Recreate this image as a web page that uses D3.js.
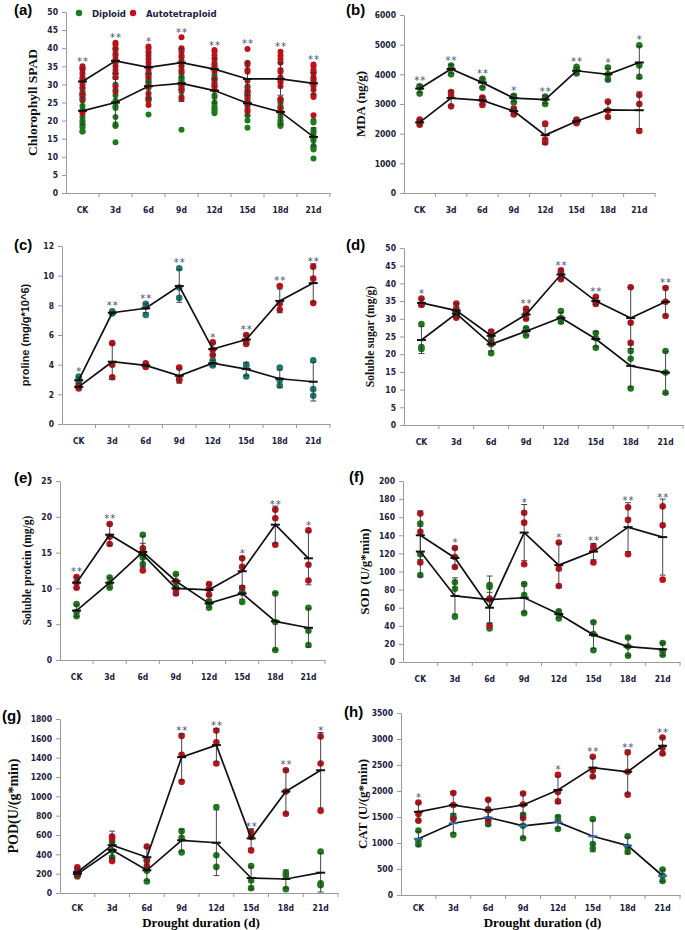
<!DOCTYPE html>
<html>
<head>
<meta charset="utf-8">
<script src="https://cdn.jsdelivr.net/npm/d3@7"></script>
<style>
body { margin: 0; background: #fff; }
.tk { font-family: "DejaVu Sans Condensed", "DejaVu Sans", sans-serif; font-weight: bold; font-size: 8.5px; fill: #1b2140; }
</style>
</head>
<body>
<script>
var days = ["CK", "3d", "6d", "9d", "12d", "15d", "18d", "21d"];

// (a) chlorophyll SPAD, every leaf reading
var chlDip = [[29, 28, 27, 26, 25.5, 24, 23, 22.5, 21, 20, 19.5, 18.5, 18, 17, 17],
  [33, 32, 30, 28.5, 27, 25.5, 25, 24, 23.5, 21, 19, 18.5, 14],
  [33, 32.5, 31.5, 31, 30.5, 30, 29, 26.5, 26, 25.5, 21.7],
  [33, 32, 31.5, 31, 30.5, 30, 29.5, 28.5, 28, 17.5],
  [32.5, 31.5, 30, 29.5, 27, 26.5, 25, 24, 23.5, 23, 22.5, 22],
  [29.5, 28, 27, 26, 25, 24.5, 21.5, 20, 18],
  [31.5, 26, 25, 24, 23.5, 22, 21, 20, 19.5, 19, 18.5],
  [20, 19.5, 17.5, 17, 16.5, 15.5, 15, 14.5, 13, 12.5, 12, 9.5]];
var chlTet = [[35, 34.5, 34, 33, 32, 31.5, 31, 30, 29, 27.5, 27, 26, 22],
  [41.5, 41, 40, 39.5, 38.5, 38, 37, 36.5, 36, 35, 34, 33, 32, 29.5, 28],
  [40.5, 40, 39, 38, 37, 36, 35, 34, 33, 32, 29.5, 27.5, 26, 24.3],
  [43, 40, 39.5, 39, 38, 37.5, 36.5, 35, 34, 33.5, 30, 29, 28.5, 26.5, 26],
  [39.5, 39, 38, 37, 36, 35.5, 35, 34.5, 33.5, 31.5, 30.5, 29.5, 28.5],
  [39.8, 36, 35.5, 34, 33.5, 31, 29, 28, 27.5, 26.5, 25.5, 24, 23, 22.5],
  [39, 38, 37, 36, 34, 33.5, 32, 31, 30.5, 29.5, 26, 25.5, 23.5, 22.5],
  [35.5, 35, 34, 33.5, 33, 32, 31.5, 31, 30.5, 30, 29.5, 28.5, 27, 26.5, 21.5]];
var chlDipMean = [22.7, 25, 29.5, 30.3, 28.3, 24.8, 22.4, 15.5];
var chlTetMean = [30.8, 36.5, 34.7, 36, 34.2, 31.5, 31.5, 30.3];
var chlDipSd = [3.8, 6.5, 3.5, 5, 3.5, 3.5, 3.5, 2.5];
var chlTetSd = [3.5, 3.5, 4, 4, 3, 4.5, 4.5, 3];
var chlSig = ["**", "**", "*", "**", "**", "**", "**", "**"];

// (b) MDA
var mdaDip = [[3600, 3560, 3350], [4300, 4220, 4000], [3850, 3780, 3550], [3280, 3230, 3050],
  [3250, 3200, 3000], [4250, 4180, 4030], [4230, 4000, 3820], [4980, 4300, 3920]];
var mdaTet = [[2480, 2400, 2300], [3400, 3280, 2920], [3220, 3150, 2970], [2850, 2780, 2650],
  [2340, 1800, 1700], [2480, 2430, 2350], [3080, 2780, 2560], [3300, 3000, 2090]];
var mdaDipMean = [3520, 4180, 3720, 3200, 3150, 4120, 4000, 4400];
var mdaTetMean = [2380, 3200, 3120, 2760, 1950, 2420, 2800, 2790];
var mdaDipSd = [130, 150, 150, 120, 130, 110, 200, 540];
var mdaTetSd = [90, 250, 130, 100, 300, 70, 260, 620];
var mdaSig = ["**", "**", "**", "*", "**", "**", "*", "*"];

// (c) proline - the two lines cross between 9d and 12d in the original
var proDip = [[3.2, 3.0, 2.8], [7.6, 7.5, 7.45], [8.1, 7.9, 7.35], [10.5, 9.2, 8.5],
  [4.3, 4.1, 3.95], [4.0, 3.9, 3.2], [3.8, 2.95, 2.6], [4.3, 2.35, 1.9]];
var proTet = [[2.6, 2.5, 2.4], [5.45, 4.0, 3.15], [4.1, 3.95, 3.85], [3.8, 3.05, 2.95],
  [5.5, 5.0, 4.65], [6.0, 5.6, 5.4], [9.3, 8.1, 7.7], [10.6, 9.8, 8.15]];
var proHiMean = [2.95, 7.5, 7.8, 9.3, 5.05, 5.7, 8.3, 9.5];
var proLoMean = [2.5, 4.2, 3.95, 3.25, 4.1, 3.7, 3.05, 2.85];
var proHiSd = [0.2, 0.1, 0.3, 1.1, 0.4, 0.3, 0.8, 1.3];
var proLoSd = [0.1, 1.2, 0.1, 0.5, 0.2, 0.45, 0.6, 1.3];
var proSig = ["*", "**", "**", "**", "*", "**", "**", "**"];

// (d) soluble sugar
var sugDip = [[28.5, 22, 21.5], [33, 31.5, 31], [24, 22.8, 20.3], [27.3, 27, 25.3],
  [32.2, 30.2, 29.2], [26, 24.5, 21.8], [20.9, 18.7, 10.3], [20.9, 14.8, 9.1]];
var sugTet = [[35.7, 34, 34], [34.3, 32.5, 30.3], [26.4, 25.5, 23.2], [32.8, 31.5, 30],
  [43.7, 43, 41.2], [36.2, 34.8, 34.2], [38.9, 28.9, 23.2], [38.7, 34.8, 30.8]];
var sugDipMean = [24, 31.5, 22.8, 26.5, 30.3, 24.3, 16.7, 14.8];
var sugTetMean = [34.5, 32.3, 25.2, 31.2, 42.5, 35, 30.2, 34.8];
var sugDipSd = [3.8, 1, 1.9, 1.1, 1.5, 2.1, 5.9, 5.9];
var sugTetSd = [1, 2, 1.6, 1.4, 1.3, 1, 8.6, 4];
var sugSig = ["*", "", "", "**", "**", "**", "", "**"];

// (e) soluble protein
var protDip = [[7.8, 6.7, 6.1], [11.5, 10.6, 10.1], [17.5, 14.3, 13.4], [12, 11, 10.2],
  [8.2, 7.9, 7.3], [9.5, 9.4, 8.1], [9.3, 5.3, 1.4], [7.3, 4.1, 2.1]];
var protTet = [[11.6, 10.8, 10.1], [19, 17.2, 16.2], [15.6, 15, 12.5], [11, 9.8, 9.3],
  [10.6, 9.9, 9.1], [14.2, 13, 10.1], [21, 19.8, 16.1], [18.1, 13.3, 11.1]];
var protDipMean = [6.9, 10.8, 15.1, 11, 7.9, 9.3, 5.4, 4.5];
var protTetMean = [10.8, 17.5, 14.7, 10, 9.8, 12.4, 18.9, 14.2];
var protDipSd = [0.8, 0.7, 2.2, 0.9, 0.5, 0.8, 4, 2.7];
var protTetSd = [0.8, 1.5, 1.6, 0.9, 0.8, 2, 2.6, 3.7];
var protSig = ["**", "**", "", "", "", "*", "**", "*"];

// (f) SOD
var sodDip = [[153, 119, 96], [88, 81, 50], [85, 83, 37], [86, 74, 54],
  [56, 53, 48], [44, 31, 13], [27, 17, 7], [21, 12, 8]];
var sodTet = [[164, 144, 110], [126, 116, 105], [70, 69, 40], [165, 154, 108],
  [132, 103, 84], [128, 125, 110], [171, 157, 119], [172, 151, 91]];
var sodDipMean = [122, 73, 69, 71, 53, 30, 17, 14];
var sodTetMean = [140, 115, 60, 143, 107, 122, 149, 138];
var sodDipSd = [28, 20, 26, 16, 4, 15, 10, 7];
var sodTetSd = [27, 11, 17, 31, 24, 9, 27, 42];
var sodSig = ["", "*", "", "*", "*", "**", "**", "**"];

// (g) POD
var podDip = [[220, 195, 170], [530, 440, 370], [330, 230, 120], [640, 570, 420],
  [890, 390, 270], [280, 130, 50], [210, 180, 40], [430, 100, 80]];
var podTet = [[265, 230, 180], [585, 560, 330], [480, 340, 280], [1625, 1430, 1150],
  [1680, 1560, 1340], [630, 580, 440], [1270, 1050, 820], [1620, 1340, 850]];
var podDipMean = [195, 445, 235, 545, 520, 155, 145, 210];
var podTetMean = [215, 495, 370, 1405, 1530, 565, 1050, 1270];
var podDipSd = [25, 80, 105, 115, 340, 115, 95, 200];
var podTetSd = [45, 145, 105, 240, 170, 100, 225, 390];
var podSig = ["", "", "", "**", "**", "**", "**", "*"];

// (h) CAT
var catDip = [[1240, 1040, 970], [1520, 1480, 1160], [1650, 1460, 1360], [1540, 1330, 1090],
  [1500, 1440, 1270], [1460, 980, 890], [1130, 920, 830], [490, 370, 270]];
var catTet = [[1780, 1560, 1430], [1960, 1730, 1460], [1830, 1630, 1430], [1950, 1740, 1480],
  [2310, 1980, 1800], [2660, 2400, 2280], [2740, 2370, 1930], [3030, 2830, 2720]];
var catDipMean = [1080, 1380, 1490, 1330, 1400, 1130, 950, 370];
var catTetMean = [1600, 1730, 1630, 1730, 2020, 2450, 2370, 2870];
var catDipSd = [140, 190, 150, 230, 120, 300, 160, 110];
var catTetSd = [175, 250, 200, 235, 260, 190, 420, 160];
var catSig = ["*", "", "", "", "*", "**", "**", "**"];

var green = "#1d7a1d", red = "#c0111b", teal = "#1b7a6c";
var serif = "'Liberation Serif', 'Times New Roman', serif";
var sans = "'Liberation Sans', Arial, sans-serif";

var svg = d3.select("body").append("svg")
  .attr("width", 685)
  .attr("height", 930);

var panels = [
  { label: "(a)", lx: 14, ly: 15, box: [66, 330, 12, 193], max: 50, step: 5,
    title: "Chlorophyll SPAD", tx: 32, tsize: 13.5, tfont: serif,
    dots: [chlDip, chlTet], means: [chlDipMean, chlTetMean], sds: [chlDipSd, chlTetSd], sig: chlSig, r: 3 },
  { label: "(b)", lx: 346, ly: 15, box: [404, 655, 15, 193], max: 6000, step: 1000,
    title: "MDA (ng/g)", tx: 360, tsize: 13, tfont: serif,
    dots: [mdaDip, mdaTet], means: [mdaDipMean, mdaTetMean], sds: [mdaDipSd, mdaTetSd], sig: mdaSig },
  { label: "(c)", lx: 14, ly: 250, box: [62, 330, 246, 424], max: 12, step: 2,
    title: "proline (mg/g*10^6)", tx: 25, tsize: 11, tfont: sans, dipColor: teal,
    dots: [proDip, proTet], means: [proHiMean, proLoMean], sds: [proHiSd, proLoSd], sig: proSig },
  { label: "(d)", lx: 346, ly: 250, box: [404, 683, 248, 425], max: 50, step: 5,
    title: "Soluble sugar (mg/g)", tx: 370, tsize: 11.5, tfont: serif,
    dots: [sugDip, sugTet], means: [sugDipMean, sugTetMean], sds: [sugDipSd, sugTetSd], sig: sugSig },
  { label: "(e)", lx: 14, ly: 483, box: [60, 325, 481, 660], max: 25, step: 5,
    title: "Soluble protein (mg/g)", tx: 27, tsize: 11.5, tfont: serif,
    dots: [protDip, protTet], means: [protDipMean, protTetMean], sds: [protDipSd, protTetSd], sig: protSig },
  { label: "(f)", lx: 349, ly: 482, box: [403, 680, 481, 662], max: 200, step: 20,
    title: "SOD (U/g*min)", tx: 364, tsize: 13, tfont: serif,
    dots: [sodDip, sodTet], means: [sodDipMean, sodTetMean], sds: [sodDipSd, sodTetSd], sig: sodSig },
  { label: "(g)", lx: 2, ly: 721, box: [60, 338, 719, 893], max: 1800, step: 200,
    title: "POD(U/(g*min)", tx: 13, tsize: 14, tfont: serif, xtitle: true, pad: 12,
    dots: [podDip, podTet], means: [podDipMean, podTetMean], sds: [podDipSd, podTetSd], sig: podSig },
  { label: "(h)", lx: 344, ly: 717, box: [401, 680, 713, 895], max: 3500, step: 500,
    title: "CAT (U/(g*min)", tx: 362, tsize: 13, tfont: serif, xtitle: true, pad: 10, dipMark: "#2f63c4",
    dots: [catDip, catTet], means: [catDipMean, catTetMean], sds: [catDipSd, catTetSd], sig: catSig }
];

panels.forEach(drawPanel);

// legend (only in panel a)
var legend = svg.append("g").attr("class", "legend");
[["Diploid", green, 79], ["Autotetraploid", red, 133]].forEach(function (d) {
  legend.append("circle").attr("cx", d[2]).attr("cy", 13).attr("r", 3.2).attr("fill", d[1]);
  legend.append("text").attr("x", d[2] + 13).attr("y", 16.5).text(d[0])
    .attr("class", "tk").style("font-size", "9.5px");
});

function drawPanel(p) {
  var x = d3.scaleBand().domain(days).range([p.box[0], p.box[1]]);
  var y = d3.scaleLinear().domain([0, p.max]).range([p.box[3], p.box[2]]);
  var cx = function (i) { return x(days[i]) + x.bandwidth() / 2; };
  var r = p.r || 3.3;
  var colors = [p.dipColor || green, red];
  var g = svg.append("g");

  // axes
  var ya = g.append("g")
    .attr("transform", "translate(" + p.box[0] + ",0)")
    .call(d3.axisLeft(y).tickValues(d3.range(0, p.max + p.step / 2, p.step))
      .tickFormat(d3.format("d"))
      .tickSizeInner(4).tickSizeOuter(0).tickPadding(4));
  var xa = g.append("g")
    .attr("transform", "translate(0," + p.box[3] + ")")
    .call(d3.axisBottom(x).tickSize(0).tickPadding(p.pad || 14));
  [ya, xa].forEach(function (a) {
    a.select(".domain").attr("stroke", "#999");
    a.selectAll(".tick line").attr("stroke", "#999");
    a.selectAll("text").attr("class", "tk");
  });
  // little separators between the days
  g.selectAll(".sep")
    .data(days.slice(1).map(function (d) { return x(d); }).concat([p.box[1]]))
    .enter().append("line")
      .attr("x1", function (d) { return d; })
      .attr("x2", function (d) { return d; })
      .attr("y1", p.box[3])
      .attr("y2", p.box[3] + 4)
      .attr("stroke", "#999");

  // single readings
  p.dots.forEach(function (series, s) {
    var pts = [];
    series.forEach(function (vals, i) {
      vals.forEach(function (v) { pts.push({ i: i, v: v }); });
    });
    g.append("g").selectAll("circle")
      .data(pts)
      .enter().append("circle")
        .attr("cx", function (d) { return cx(d.i); })
        .attr("cy", function (d) { return y(d.v); })
        .attr("r", r)
        .attr("fill", colors[s]);
  });

  // error bars, mean lines and mean markers
  p.means.forEach(function (m, s) {
    var sd = p.sds[s];
    var eb = g.append("g").attr("stroke", "#333").attr("stroke-width", 0.9);
    m.forEach(function (v, i) {
      eb.append("line").attr("x1", cx(i)).attr("x2", cx(i))
        .attr("y1", y(v - sd[i])).attr("y2", y(v + sd[i]));
      [v - sd[i], v + sd[i]].forEach(function (e) {
        eb.append("line").attr("x1", cx(i) - 3).attr("x2", cx(i) + 3)
          .attr("y1", y(e)).attr("y2", y(e));
      });
    });
    g.append("path")
      .datum(m)
      .attr("fill", "none")
      .attr("stroke", "#111")
      .attr("stroke-width", 1.7)
      .attr("d", d3.line().x(function (d, i) { return cx(i); }).y(function (d) { return y(d); }));
    g.append("g").selectAll("line")
      .data(m)
      .enter().append("line")
        .attr("x1", function (d, i) { return cx(i) - 4.5; })
        .attr("x2", function (d, i) { return cx(i) + 4.5; })
        .attr("y1", function (d) { return y(d); })
        .attr("y2", function (d) { return y(d); })
        .attr("stroke", (s === 0 && p.dipMark) ? p.dipMark : "#111")
        .attr("stroke-width", 2);
  });

  // significance stars above the highest mark of each day
  p.sig.forEach(function (st, i) {
    if (!st) return;
    var topDot = d3.max([d3.max(p.dots[0][i]), d3.max(p.dots[1][i])]);
    var topBar = d3.max([p.means[0][i] + p.sds[0][i], p.means[1][i] + p.sds[1][i]]);
    var topPx = Math.min(y(topDot) - r, y(topBar));
    g.append("text")
      .attr("x", cx(i) + 0.5)
      .attr("y", topPx + 1.5)
      .attr("text-anchor", "middle")
      .style("font-family", "'DejaVu Sans', sans-serif")
      .style("font-size", "10px")
      .style("letter-spacing", "1px")
      .style("fill", "#46506e")
      .text(st);
  });

  // panel letter
  svg.append("text")
    .attr("x", p.lx).attr("y", p.ly)
    .style("font-family", sans).style("font-weight", "bold").style("font-size", "15px")
    .text(p.label);

  // y title
  svg.append("text")
    .attr("transform", "translate(" + p.tx + "," + (p.box[2] + p.box[3]) / 2 + ") rotate(-90)")
    .attr("text-anchor", "middle")
    .attr("dominant-baseline", "central")
    .style("font-family", p.tfont).style("font-weight", "bold")
    .style("font-size", p.tsize + "px").style("fill", "#111")
    .text(p.title);

  if (p.xtitle) {
    svg.append("text")
      .attr("x", (p.box[0] + p.box[1]) / 2 + 2)
      .attr("y", 927)
      .attr("text-anchor", "middle")
      .style("font-family", serif).style("font-weight", "bold").style("font-size", "13px")
      .text("Drought duration (d)");
  }
}
</script>
</body>
</html>
